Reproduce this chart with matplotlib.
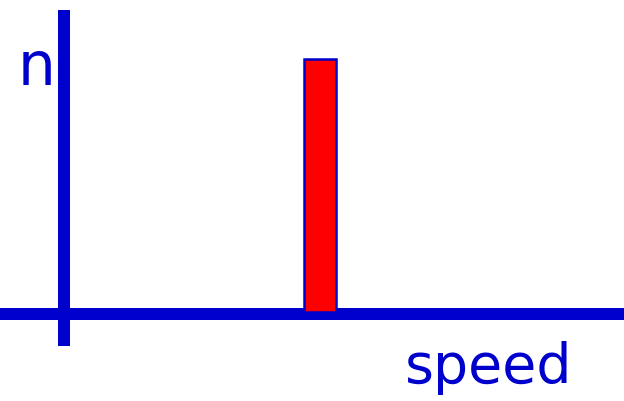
import matplotlib.pyplot as plt

# data
speeds = [5.0]          # all particles share one speed
counts = [0.985]        # relative number n
x_label = "speed"
y_label = "n"

blue = "#0000cc"
red = "#ff0000"
dpi = 100
axis_lw = 12 * 72 / dpi   # 12 px thick axis lines

fig = plt.figure(figsize=(6.24, 4.02), dpi=dpi)
ax = fig.add_axes([0, 0, 1, 1])
ax.set_xlim(-1.25, 10.94)
ax.set_ylim(-0.339, 1.226)
ax.axis("off")

# axes drawn as thick lines
ax.plot([-1.25, 10.94], [0, 0], color=blue, lw=axis_lw, solid_capstyle="butt", zorder=1)
ax.plot([0, 0], [-0.125, 1.183], color=blue, lw=axis_lw, solid_capstyle="butt", zorder=1)

# the single bar
ax.bar(speeds, counts, width=0.64, bottom=0.008, color=red, edgecolor=blue,
       linewidth=1.8, zorder=2)

ax.text(-0.53, 0.96, y_label, color=blue, fontsize=43, ha="center", va="center")
ax.text(8.3, -0.206, x_label, color=blue, fontsize=40, ha="center", va="center")

fig.savefig("out.png", dpi=dpi)
